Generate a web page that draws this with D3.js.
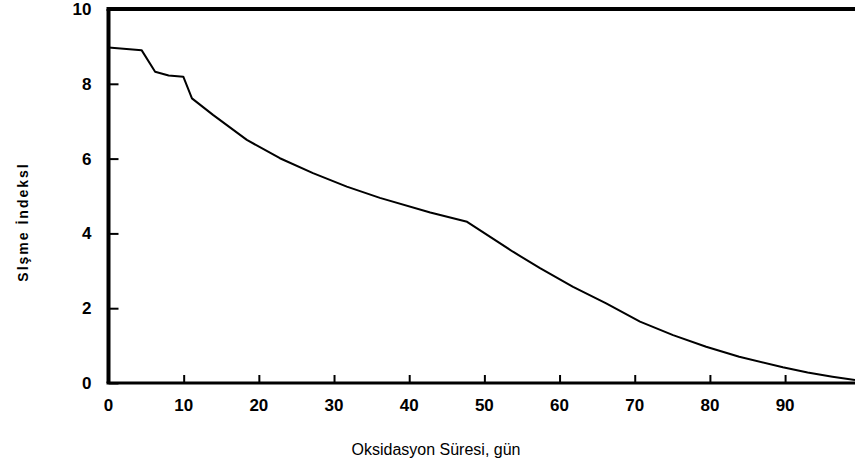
<!DOCTYPE html>
<html>
<head>
<meta charset="utf-8">
<script src="https://d3js.org/d3.v7.min.js"></script>
<style>
body { margin: 0; background: #fff; }
.tick-label { font-family: "Liberation Sans", Arial, sans-serif; font-weight: bold; font-size: 17px; }
</style>
</head>
<body>
<script>
var days = [0, 4.4, 6.2, 8, 9.95, 11.1, 13.9, 18.4, 22.8, 27.2, 31.7, 36.1, 42.8, 47.7, 53.8, 57.4, 61.8, 66.2, 70.7, 75.1, 79.5, 83.9, 89.7, 93, 96.3, 99.3];
var swelling = [8.97, 8.9, 8.32, 8.22, 8.19, 7.61, 7.17, 6.5, 6.01, 5.61, 5.25, 4.95, 4.56, 4.31, 3.51, 3.07, 2.57, 2.13, 1.64, 1.28, 0.97, 0.7, 0.42, 0.28, 0.17, 0.08];
var xTicks = [0, 10, 20, 30, 40, 50, 60, 70, 80, 90];
var yTicks = [0, 2, 4, 6, 8, 10];

var svgWidth = 855, svgHeight = 466;
var margin = {top: 9, left: 108.5};
var width = 855 - margin.left;
var height = 374;

var svg = d3.select("body").append("svg")
    .attr("width", svgWidth)
    .attr("height", svgHeight);

var g = svg.append("g")
    .attr("transform", "translate(" + margin.left + "," + margin.top + ")");

var xScale = d3.scaleLinear().domain([0, 99.3]).range([0, width]);
var yScale = d3.scaleLinear().domain([0, 10]).range([height, 0]);

// inward ticks
var xAxisCall = d3.axisTop(xScale).tickValues(xTicks).tickSize(8).tickFormat("");
var yAxisCall = d3.axisRight(yScale).tickValues(yTicks).tickSize(10).tickFormat("");

var xa = g.append("g").attr("transform", "translate(0," + height + ")").call(xAxisCall);
var ya = g.append("g").call(yAxisCall);
xa.select(".domain").remove();
ya.select(".domain").remove();
xa.selectAll("line").attr("stroke-width", 2);
ya.selectAll("line").attr("stroke-width", 2);

// labels
g.selectAll(".xl").data(xTicks).enter().append("text")
    .attr("class", "tick-label")
    .attr("x", function(d){ return xScale(d); })
    .attr("y", height + 28)
    .attr("text-anchor", "middle")
    .text(function(d){ return d; });

g.selectAll(".yl").data(yTicks).enter().append("text")
    .attr("class", "tick-label")
    .attr("x", -17)
    .attr("y", function(d){ return yScale(d) + 6; })
    .attr("text-anchor", "end")
    .text(function(d){ return d; });

// frame: left, top, bottom
g.append("line").attr("x1", 0).attr("x2", 0).attr("y1", 0).attr("y2", height)
    .attr("stroke", "#000").attr("stroke-width", 4);
g.append("line").attr("x1", -2).attr("x2", width).attr("y1", 0).attr("y2", 0)
    .attr("stroke", "#000").attr("stroke-width", 4);
g.append("line").attr("x1", -2).attr("x2", width).attr("y1", height).attr("y2", height)
    .attr("stroke", "#000").attr("stroke-width", 3);

var line = d3.line()
    .x(function(d, i){ return xScale(days[i]); })
    .y(function(d){ return yScale(d); });

g.append("path")
    .datum(swelling)
    .attr("fill", "none")
    .attr("stroke", "#000")
    .attr("stroke-width", 2)
    .attr("stroke-linejoin", "round")
    .attr("d", line);

svg.append("text")
    .attr("x", 436)
    .attr("y", 455)
    .attr("text-anchor", "middle")
    .style("font-family", "Liberation Sans, Arial, sans-serif")
    .style("font-size", "16px")
    .text("Oksidasyon Süresi, gün");

svg.append("text")
    .attr("transform", "translate(28,222) rotate(-90)")
    .attr("text-anchor", "middle")
    .style("font-family", "Liberation Sans, Arial, sans-serif")
    .style("font-size", "14px")
    .style("font-weight", "bold")
    .style("letter-spacing", "2px")
    .text("Slşme İndeksl");
</script>
</body>
</html>
